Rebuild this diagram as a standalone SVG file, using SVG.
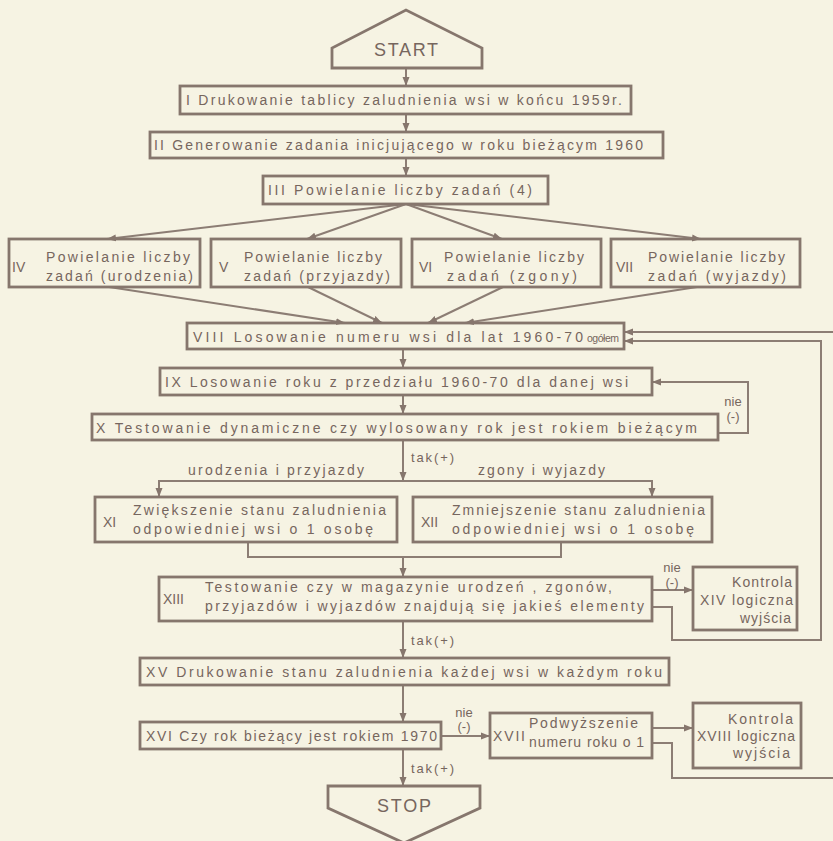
<svg xmlns="http://www.w3.org/2000/svg" width="833" height="841" viewBox="0 0 833 841">
<defs>
<marker id="ah" markerUnits="userSpaceOnUse" markerWidth="10" markerHeight="10" refX="9" refY="4" orient="auto">
<path d="M0,0.5 L9,4 L0,7.5 z" fill="#86766d"/>
</marker>
<style>
.b{fill:none;stroke:#86766d;stroke-width:2.8}
.c{fill:none;stroke:#8c7d74;stroke-width:2}
.a{marker-end:url(#ah)}
text{font-family:"Liberation Sans","DejaVu Sans",sans-serif;font-size:14px;fill:#76665e}
.s{font-size:13px}
.big{font-size:18px;text-anchor:middle}
.m{text-anchor:middle}
</style>
</defs>
<rect width="833" height="841" fill="#f6f3e3"/>

<g id="connectors">
<path class="c a" d="M406,68 V86"/>
<path class="c a" d="M406,114 V132"/>
<path class="c a" d="M406,158 V176"/>
<path class="c a" d="M406,204 L107,239"/>
<path class="c a" d="M406,204 L307,239"/>
<path class="c a" d="M406,204 L502,239"/>
<path class="c a" d="M406,204 L701,239"/>
<path class="c a" d="M109,287 L345,323"/>
<path class="c a" d="M308,287 L382,323"/>
<path class="c a" d="M503,287 L428,323"/>
<path class="c a" d="M697,287 L465,323"/>
<path class="c a" d="M403,349 V368"/>
<path class="c a" d="M403,395 V414"/>
<path class="c a" d="M403,440 V481"/>
<path class="c a" d="M403,481 H159 V497"/>
<path class="c a" d="M403,481 H652 V497"/>
<path class="c" d="M248,542 V557 H561 V542"/>
<path class="c a" d="M403,557 V577"/>
<path class="c a" d="M718,433 H748 V382 H652"/>
<path class="c a" d="M652,590 H693"/>
<path class="c a" d="M652,607 H672 V640 H821 V341 H624"/>
<path class="c a" d="M833,332 H624"/>
<path class="c a" d="M403,621 V658"/>
<path class="c a" d="M403,685 V722"/>
<path class="c a" d="M441,736 H490"/>
<path class="c a" d="M652,728 H693"/>
<path class="c" d="M652,743 H672 V778 H833"/>
<path class="c a" d="M403,749 V786"/>
<text class="s" x="411" y="462" textLength="43">tak(+)</text>
<text x="188" y="475" textLength="176">urodzenia i przyjazdy</text>
<text x="478" y="475" textLength="127">zgony i wyjazdy</text>
<text class="s m" x="733" y="406">nie</text>
<text class="s m" x="733" y="421">(-)</text>
<text class="s m" x="672" y="572">nie</text>
<text class="s m" x="672" y="587">(-)</text>
<text class="s" x="411" y="645" textLength="43">tak(+)</text>
<text class="s m" x="464" y="717">nie</text>
<text class="s m" x="464" y="731">(-)</text>
<text class="s" x="411" y="773" textLength="43">tak(+)</text>
</g>

<g id="start">
<polygon class="b" points="332,68 332,48 406,10 482,48 482,68"/>
<text class="big" x="406" y="56" textLength="64">START</text>
</g>
<g id="n1">
<rect class="b" x="180" y="86" width="451" height="28"/>
<text x="186" y="105" textLength="436">I  Drukowanie tablicy zaludnienia wsi w końcu 1959r.</text>
</g>
<g id="n2">
<rect class="b" x="150" y="132" width="513" height="26"/>
<text x="154" y="150" textLength="489">II  Generowanie zadania inicjującego w roku bieżącym 1960</text>
</g>
<g id="n3">
<rect class="b" x="263" y="176" width="285" height="28"/>
<text x="268" y="195" textLength="264">III  Powielanie liczby zadań (4)</text>
</g>
<g id="n4">
<rect class="b" x="9" y="239" width="191" height="48"/>
<text x="12" y="272">IV</text>
<text x="46" y="262" textLength="144">Powielanie liczby</text>
<text x="46" y="281" textLength="147">zadań (urodzenia)</text>
</g>
<g id="n5">
<rect class="b" x="211" y="239" width="190" height="48"/>
<text x="219" y="272">V</text>
<text x="244" y="262" textLength="138">Powielanie liczby</text>
<text x="244" y="281" textLength="146">zadań (przyjazdy)</text>
</g>
<g id="n6">
<rect class="b" x="412" y="239" width="189" height="48"/>
<text x="419" y="272">VI</text>
<text x="444" y="262" textLength="140">Powielanie liczby</text>
<text x="447" y="281" textLength="130">zadań  (zgony)</text>
</g>
<g id="n7">
<rect class="b" x="611" y="239" width="189" height="48"/>
<text x="616" y="272">VII</text>
<text x="648" y="262" textLength="137">Powielanie liczby</text>
<text x="648" y="281" textLength="138">zadań (wyjazdy)</text>
</g>
<g id="n8">
<rect class="b" x="187" y="323" width="437" height="26"/>
<text x="193" y="342" textLength="390">VIII Losowanie numeru wsi dla lat 1960-70</text>
<text x="587" y="342" textLength="32" style="font-size:10.5px">ogółem</text>
</g>
<g id="n9">
<rect class="b" x="160" y="368" width="492" height="27"/>
<text x="165" y="387" textLength="463">IX Losowanie roku z przedziału 1960-70 dla danej wsi</text>
</g>
<g id="n10">
<rect class="b" x="92" y="414" width="626" height="26"/>
<text x="96" y="433" textLength="601">X Testowanie dynamiczne czy wylosowany rok jest rokiem bieżącym</text>
</g>
<g id="n11">
<rect class="b" x="95" y="497" width="302" height="45"/>
<text x="103" y="527">XI</text>
<text x="133" y="515" textLength="253">Zwiększenie stanu zaludnienia</text>
<text x="133" y="534" textLength="240">odpowiedniej wsi o 1 osobę</text>
</g>
<g id="n12">
<rect class="b" x="413" y="497" width="299" height="45"/>
<text x="421" y="527">XII</text>
<text x="452" y="515" textLength="253">Zmniejszenie stanu zaludnienia</text>
<text x="452" y="534" textLength="242">odpowiedniej wsi o 1 osobę</text>
</g>
<g id="n13">
<rect class="b" x="159" y="577" width="493" height="44"/>
<text x="163" y="604">XIII</text>
<text x="205" y="592" textLength="407">Testowanie czy w magazynie urodzeń , zgonów,</text>
<text x="205" y="611" textLength="439">przyjazdów i wyjazdów znajdują się jakieś elementy</text>
</g>
<g id="n14">
<rect class="b" x="693" y="567" width="104" height="63"/>
<text x="732" y="587" textLength="60">Kontrola</text>
<text x="700" y="605" textLength="93">XIV logiczna</text>
<text x="740" y="623" textLength="51">wyjścia</text>
</g>
<g id="n15">
<rect class="b" x="140" y="658" width="529" height="27"/>
<text x="146" y="677" textLength="516">XV Drukowanie stanu zaludnienia każdej wsi w każdym roku</text>
</g>
<g id="n16">
<rect class="b" x="140" y="722" width="301" height="27"/>
<text x="146" y="741" textLength="291">XVI Czy rok bieżący jest rokiem 1970</text>
</g>
<g id="n17">
<rect class="b" x="490" y="713" width="162" height="45"/>
<text x="493" y="741" textLength="32">XVII</text>
<text x="529" y="728" textLength="109">Podwyższenie</text>
<text x="529" y="747" textLength="115">numeru roku o 1</text>
</g>
<g id="n18">
<rect class="b" x="693" y="703" width="108" height="65"/>
<text x="728" y="724" textLength="65">Kontrola</text>
<text x="697" y="741" textLength="98">XVIII logiczna</text>
<text x="733" y="758" textLength="57">wyjścia</text>
</g>
<g id="stop">
<polygon class="b" points="328,786 480,786 480,808 404,843 328,808"/>
<text class="big" x="404" y="812" textLength="54">STOP</text>
</g>
</svg>
